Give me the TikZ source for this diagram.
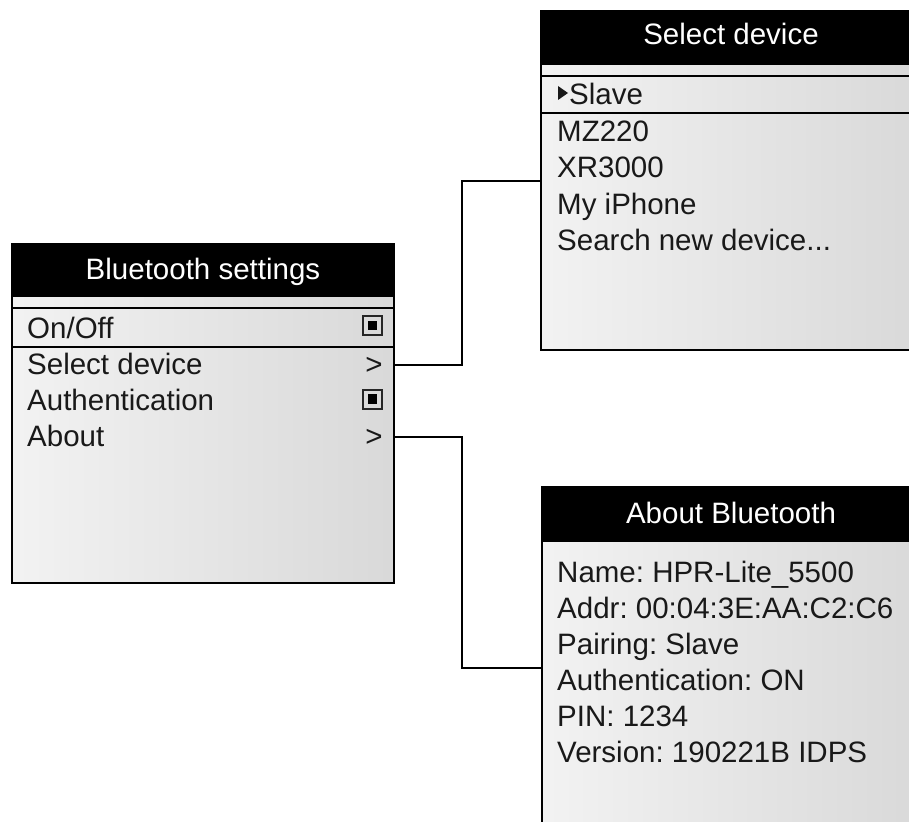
\documentclass[tikz,border=0pt]{standalone}
\usepackage{fontspec}
\setmainfont{Liberation Sans}
\frenchspacing
\begin{document}
\begin{tikzpicture}[x=1pt,y=-1pt,
 panel/.style={draw=black, line width=2pt, left color=black!5, right color=black!15, rectangle, inner sep=0pt, outer sep=0pt, anchor=north west},
 hdr/.style={fill=black},
 ttl/.style={text=white, font=\fontsize{29.5}{35}\selectfont\frenchspacing, anchor=base, inner sep=0pt},
 itm/.style={font=\fontsize{29.5}{35}\selectfont\frenchspacing, anchor=base west, inner sep=0pt, text=black!90},
 gt/.style={font=\fontsize{29.5}{35}\selectfont, anchor=base, inner sep=0pt, text=black!90},
 sepl/.style={line width=2pt},
 conn/.style={line width=2pt, draw=black},
 chk/.style={draw=black!85, line width=2pt, minimum size=19pt, inner sep=0pt, rectangle},
]
\useasboundingbox (0,0) rectangle (909,821);
\begin{scope}
\clip (0,0) rectangle (909,821);

% ---------- left panel ----------
\node[panel, minimum width=382pt, minimum height=339pt] (lb) at (12,244) {};
\fill[hdr] (lb.north west) rectangle ([yshift=-53pt]lb.north east);
\draw[sepl] (lb.north west |- 0,308) -- (lb.north east |- 0,308);
\draw[sepl] (lb.north west |- 0,347) -- (lb.north east |- 0,347);
\draw[line width=2pt] (lb.north west) rectangle (lb.south east);
\node[ttl] (lbt) at (203,279) {Bluetooth settings};
\node[itm] (onoff) at (27,338) {On/Off};
\node[itm] (seldev) at (27,374) {Select device};
\node[itm] (auth) at (27,410) {Authentication};
\node[itm] (about) at (27,446) {About};
\node[chk] (chk1) at (372.5,325.5) {};
\fill (chk1.center) +(-4.6,-4.6) rectangle +(4.6,4.6);
\node[chk] (chk2) at (372.5,399) {};
\fill (chk2.center) +(-4.6,-4.6) rectangle +(4.6,4.6);
\node[gt] (gt1) at (374,374) {>};
\node[gt] (gt2) at (374,446) {>};

% ---------- select device panel ----------
\node[panel, minimum width=380pt, minimum height=339pt] (sd) at (541,11) {};
\fill[hdr] (sd.north west) rectangle ([yshift=-54pt]sd.north east);
\draw[sepl] (sd.north west |- 0,76) -- (sd.north east |- 0,76);
\draw[sepl] (sd.north west |- 0,113) -- (sd.north east |- 0,113);
\draw[line width=2pt] (sd.north west) rectangle (sd.south east);
\node[ttl] (sdt) at (731,45) {Select device};
\fill[black!90] (558,86) -- (558,100) -- (568,93) -- cycle;
\node[itm] (slave) at (569,105) {Slave};
\node[itm] (mz) at (557,142) {MZ220};
\node[itm] (xr) at (557,178) {XR3000};
\node[itm] (iph) at (557,214) {My iPhone};
\node[itm] (srch) at (557,250) {Search new device...};

% ---------- about panel ----------
\node[panel, minimum width=380pt, minimum height=400pt] (ab) at (542,487) {};
\fill[hdr] (ab.north west) rectangle ([yshift=-55pt]ab.north east);
\draw[line width=2pt] (ab.north west) rectangle (ab.south east);
\node[ttl] (abt) at (731,523) {About Bluetooth};
\node[itm] (l1) at (557,582) {Name: HPR-Lite\_5500};
\node[itm] (l2) at (557,618) {Addr: 00:04:3E:AA:C2:C6};
\node[itm] (l3) at (557,654) {Pairing: Slave};
\node[itm] (l4) at (557,690) {Authentication: ON};
\node[itm] (l5) at (557,726) {PIN: 1234};
\node[itm] (l6) at (557,762) {Version: 190221B IDPS};

% ---------- connectors ----------
\draw[conn] (lb.north east |- 0,365) -- (462,365) |- (sd.north west |- 0,181);
\draw[conn] (lb.north east |- 0,437) -- (462,437) |- (ab.north west |- 0,668);
\end{scope}
\end{tikzpicture}
\end{document}
